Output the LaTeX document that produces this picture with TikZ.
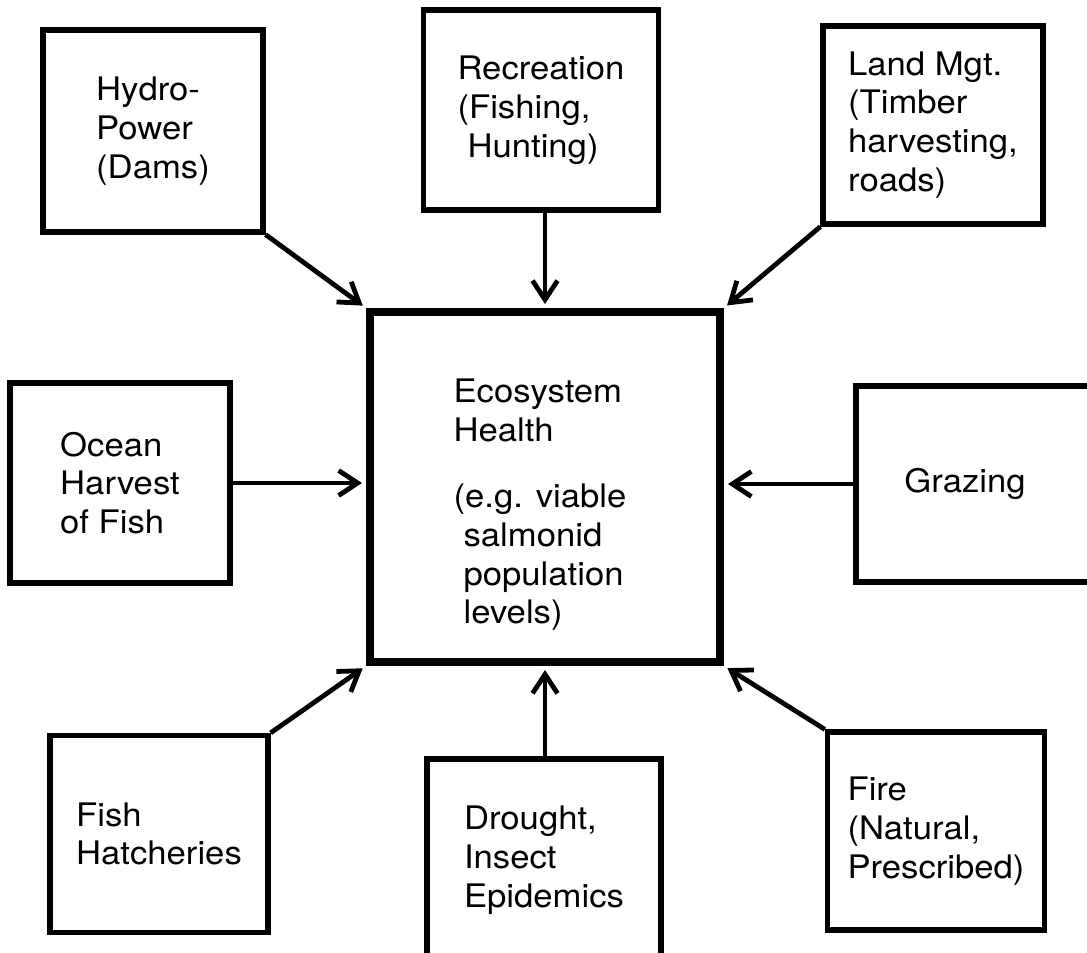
\documentclass[tikz,border=0pt]{standalone}
\usepackage{fontspec}
\setmainfont[FakeStretch=1.07]{TeX Gyre Heros}
\usetikzlibrary{arrows.meta}

\begin{document}
\begin{tikzpicture}[x=0.5pt, y=-0.5pt,
    >={Straight Barb[length=9.5pt,width=12.5pt]},
    every node/.style={font=\fontsize{16.2}{19.4}\selectfont},
    factor/.style={draw, line width=2.6pt, align=left, inner sep=0pt},
    hub/.style={draw, line width=4pt, minimum width=175pt, minimum height=175pt},
    link/.style={->, line width=2.4pt, shorten >=2pt}]

    % Fix the page to the size of the figure
    \useasboundingbox (0,0) rectangle (1087,953);

    % Draw the central box
    \node[hub] (eco) at (545,487) {};
    \node[align=left] (ecotext) at (540,505)
        {Ecosystem\\ Health\\[13.5pt] (e.g. viable\\ \hspace*{5pt}salmonid\\
         \hspace*{5pt}population\\ \hspace*{5pt}levels)};

    % Draw the surrounding factors
    \node[factor, minimum width=110pt, minimum height=101pt] (hydro) at (153,131)
        {Hydro-\\ Power\\ (Dams)};
    \node[factor, minimum width=117.5pt, minimum height=100pt] (rec) at (541,110)
        {Recreation\\ (Fishing,\\ \hspace*{5pt}Hunting)};
    \node[factor, minimum width=110pt, minimum height=99pt] (land) at (933,125)
        {Land Mgt.\\ (Timber\\ harvesting,\\ roads)};
    \node[factor, minimum width=110pt, minimum height=100pt] (ocean) at (120,483)
        {Ocean\\ Harvest\\ of Fish};
    \node[factor, minimum width=122pt, minimum height=98pt] (graze) at (978,484)
        {Grazing\hspace*{13pt}};
    \node[factor, minimum width=109pt, minimum height=98.5pt] (hatch) at (159,834)
        {Fish\\ Hatcheries};
    \node[factor, minimum width=117pt, minimum height=101pt] (drought) at (544,860)
        {Drought,\\ Insect\\ Epidemics};
    \node[factor, minimum width=108.5pt, minimum height=99pt] (fire) at (936,831)
        {Fire\\ (Natural,\\ Prescribed)};

    % Draw the arrows into the central box
    \draw[link] (hydro.south east) -- (eco.north west);
    \draw[link] (rec.south -| eco) -- (eco.north);
    \draw[link] (land.south west) -- (eco.north east);
    \draw[link] (ocean.east) -- (ocean.east -| eco.west);
    \draw[link] (graze.west) -- (graze.west -| eco.east);
    \draw[link] (hatch.north east) -- (eco.south west);
    \draw[link] (drought.north -| eco) -- (eco.south);
    \draw[link] (fire.north west) -- (eco.south east);

\end{tikzpicture}
\end{document}
